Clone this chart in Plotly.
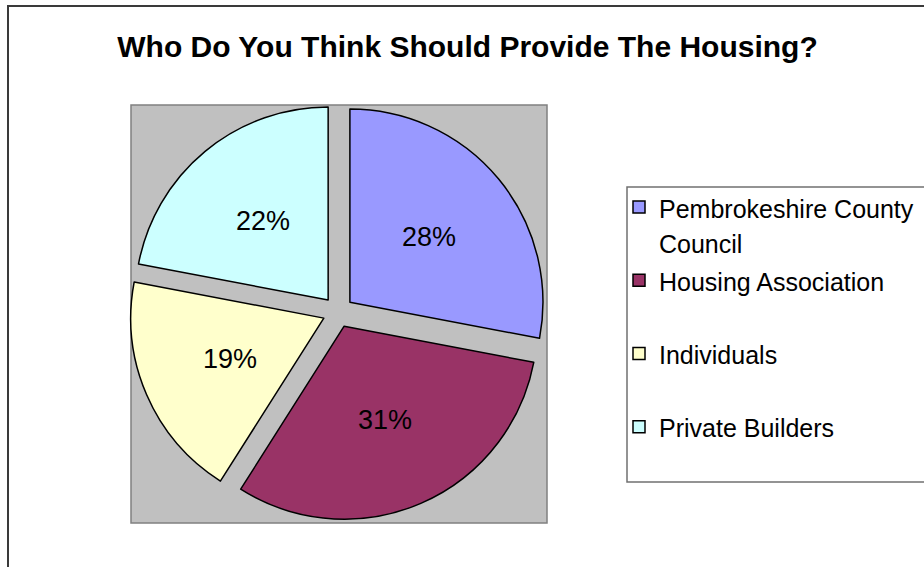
import math
import plotly.graph_objects as go

# Survey answers: who should provide the housing
categories = [
    "Pembrokeshire County<br>Council",
    "Housing Association<br>&nbsp;",
    "Individuals<br>&nbsp;",
    "Private Builders<br>&nbsp;",
]
shares = [28, 31, 19, 22]
slice_colors = ["#9999FF", "#993366", "#FFFFCC", "#CCFFFF"]

W, H = 924, 567
FONT = "Liberation Sans, Arial, sans-serif"
PULL = 0.08
LABEL_RADIUS = 0.53  # percent labels, as a fraction of the radius from each slice's own centre


def px_x(v):
    return v / W


def px_y(v):
    return 1 - v / H


dom_x = [px_x(129.5), px_x(546.5)]
dom_y = [px_y(520.5), px_y(103.5)]

legend_names = ['<span style="font-size:25px">%s</span>' % c for c in categories]

fig = go.Figure(
    go.Pie(
        labels=legend_names,
        values=shares,
        sort=False,
        direction="clockwise",
        rotation=0,
        pull=[PULL] * len(shares),
        marker=dict(colors=slice_colors, line=dict(color="black", width=1.5)),
        textinfo="none",
        hoverinfo="label+percent",
        domain=dict(x=dom_x, y=dom_y),
    )
)

# percent labels placed along each slice's bisector
box_w = (dom_x[1] - dom_x[0]) * W
box_h = (dom_y[1] - dom_y[0]) * H
cx = (dom_x[0] + dom_x[1]) / 2 * W
cy = (1 - (dom_y[0] + dom_y[1]) / 2) * H
radius = min(box_w, box_h) / 2 / (1 + PULL)
total = sum(shares)
annotations = []
start = 0.0
for v in shares:
    frac = v / total
    mid = (start + frac / 2) * 2 * math.pi
    start += frac
    dist = radius * (PULL + LABEL_RADIUS)
    lx = cx + dist * math.sin(mid)
    ly = cy - dist * math.cos(mid)
    annotations.append(dict(
        x=px_x(lx), y=px_y(ly), xref="paper", yref="paper",
        text="%d%%" % round(frac * 100), showarrow=False,
        xanchor="center", yanchor="middle",
        font=dict(family=FONT, size=27, color="black"),
    ))

fig.update_layout(
    width=W,
    height=H,
    margin=dict(l=0, r=0, t=0, b=0),
    paper_bgcolor="white",
    plot_bgcolor="white",
    font=dict(family=FONT, color="black"),
    title=dict(
        text="<b>Who Do You Think Should Provide The Housing?</b>",
        font=dict(family=FONT, size=30, color="black"),
        x=px_x(467.5),
        xanchor="center",
        y=px_y(46),
        yanchor="middle",
    ),
    legend=dict(
        x=px_x(619),
        xanchor="left",
        y=px_y(183),
        yanchor="top",
        valign="top",
        font=dict(family=FONT, size=27, color="black"),
        bgcolor="rgba(0,0,0,0)",
        borderwidth=0,
    ),
    annotations=annotations,
    shapes=[
        # outer chart frame
        dict(type="rect", xref="paper", yref="paper",
             x0=px_x(8), x1=px_x(940), y0=px_y(6), y1=px_y(590),
             line=dict(color="#3a3a3a", width=2), fillcolor="rgba(0,0,0,0)",
             layer="below"),
        # grey plot area behind the pie
        dict(type="rect", xref="paper", yref="paper",
             x0=px_x(131), x1=px_x(547), y0=px_y(105), y1=px_y(523),
             line=dict(color="#808080", width=1.5), fillcolor="#C0C0C0",
             layer="below"),
        # legend frame, running on past the right edge of the chart
        dict(type="rect", xref="paper", yref="paper",
             x0=px_x(627), x1=px_x(940), y0=px_y(187), y1=px_y(482),
             line=dict(color="#707070", width=1.5), fillcolor="white",
             layer="above"),
    ],
)

fig.write_html("out.html")
